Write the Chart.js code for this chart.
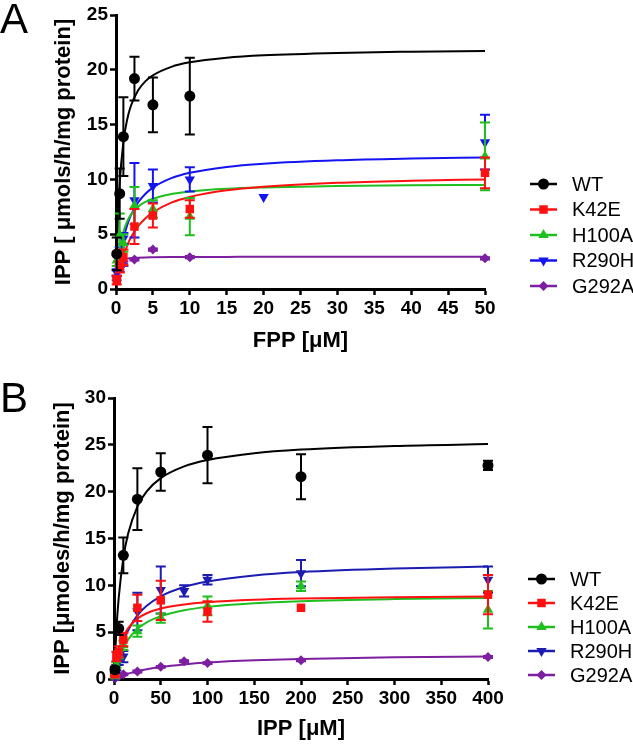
<!DOCTYPE html>
<html>
<head>
<meta charset="utf-8">
<script src="https://cdn.jsdelivr.net/npm/chart.js@4.4.1/dist/chart.umd.min.js"></script>
<style>
  body { margin: 0; background: #fff; }
  .wrap { position: absolute; left: 0; width: 633px; }
  #wrapA { top: 0; height: 370px; }
  #wrapB { top: 370px; height: 374px; }
</style>
</head>
<body>
<div class="wrap" id="wrapA"><canvas id="chartA"></canvas></div>
<div class="wrap" id="wrapB"><canvas id="chartB"></canvas></div>
<script>
const seriesNames = ['WT', 'K42E', 'H100A', 'R290H', 'G292A'];

// Panel A: FPP varied (uM)
const fppConc = [0.1, 0.5, 1, 2.5, 5, 10, 20, 50];
const aWT    = [3.2, 8.7, 13.9, 19.2, 16.8, 17.6, null, null];
const aWTErr = [1.5, 2.3, 3.6, 2.0, 2.5, 3.5, null, null];
const aK42E    = [0.8, 2.0, 2.9, 5.7, 6.7, 7.3, null, 10.6];
const aK42EErr = [0.4, 0.5, 0.7, 1.6, 1.1, 0.8, null, 1.4];
const aH100A    = [2.6, 4.9, 4.2, 7.6, 7.3, 6.6, null, 12.1];
const aH100AErr = [0.5, 2.0, 0.8, 1.7, 0.8, 1.7, null, 3.1];
const aR290H    = [1.5, 3.0, 4.6, 8.1, 9.4, 10.0, 8.4, 13.4];
const aR290HErr = [0.3, 0.8, 0.5, 3.4, 1.5, 1.1, 0, 2.5];
const aG292A    = [1.0, 1.8, 2.3, 2.7, 3.6, 2.9, null, 2.8];
const aG292AErr = [0.2, 0.2, 0.2, 0.1, 0.1, 0.1, null, 0.1];

// fitted curves, panel A
const fppCurveX = [0, 0.25, 0.5, 1, 1.5, 2, 3, 4, 5, 7.5, 10, 15, 20, 30, 40, 50];
const aWTFit    = [0, 6.18, 9.65, 13.41, 15.42, 16.67, 18.13, 18.97, 19.50, 20.27, 20.68, 21.10, 21.32, 21.54, 21.65, 21.72];
const aK42EFit  = [0, 0.95, 1.75, 3.0, 3.94, 4.67, 5.73, 6.46, 7.0, 7.88, 8.4, 9.0, 9.33, 9.69, 9.88, 10.0];
const aH100AFit = [0, 2.18, 3.55, 5.19, 6.14, 6.76, 7.51, 7.95, 8.24, 8.67, 8.89, 9.14, 9.26, 9.39, 9.46, 9.50];
const aR290HFit = [0, 1.58, 2.81, 4.58, 5.80, 6.69, 7.90, 8.69, 9.25, 10.11, 10.60, 11.14, 11.43, 11.74, 11.90, 12.00];
const aG292AFit = [0, 2.11, 2.46, 2.68, 2.77, 2.81, 2.85, 2.88, 2.89, 2.91, 2.92, 2.93, 2.94, 2.94, 2.95, 2.95];

// Panel B: IPP varied (uM)
const ippConc = [1, 2.5, 5, 10, 25, 50, 75, 100, 200, 400];
const bWT    = [1.0, null, 5.4, 13.2, 19.2, 22.1, null, 23.9, 21.6, 22.8];
const bWTErr = [0.3, null, 0.7, 1.9, 3.3, 2.0, null, 3.0, 2.4, 0.5];
const bK42E    = [0.5, 2.4, 2.9, 4.2, 7.6, 8.4, null, 7.2, 7.6, 9.0];
const bK42EErr = [0.2, 0.5, 0.6, 0.7, 1.4, 2.1, null, 1.1, 0, 2.1];
const bH100A    = [0.3, 1.5, 2.6, 3.6, 5.1, 6.5, null, 7.8, 9.9, 7.4];
const bH100AErr = [0.1, 0.3, 0.4, 0.5, 0.6, 0.5, null, 1.0, 0.5, 2.0];
const bR290H    = [0.3, 1.2, 1.9, 2.4, 7.2, 9.5, 9.4, 10.6, 11.3, 10.6];
const bR290HErr = [0.1, 0.3, 0.4, 0.6, 2.0, 2.5, 0.6, 0.5, 1.4, 1.4];
const bG292A    = [0.1, 0.2, 0.3, 0.5, 0.8, 1.3, 1.9, 1.7, 2.0, 2.35];
const bG292AErr = [0.05, 0.05, 0.05, 0.1, 0.1, 0.1, 0.1, 0.1, 0.1, 0.1];

// fitted curves, panel B
const ippCurveX = [0, 2.5, 5, 10, 15, 25, 35, 50, 75, 100, 150, 200, 300, 400];
const bWTFit    = [0, 5.18, 8.62, 12.91, 15.47, 18.41, 20.03, 21.45, 22.70, 23.38, 24.11, 24.49, 24.88, 25.08];
const bK42EFit  = [0, 1.80, 3.01, 4.51, 5.41, 6.44, 7.02, 7.52, 7.96, 8.20, 8.46, 8.59, 8.73, 8.80];
const bH100AFit = [0, 1.14, 2.03, 3.32, 4.20, 5.34, 6.05, 6.71, 7.34, 7.70, 8.09, 8.31, 8.53, 8.65];
const bR290HFit = [0, 1.31, 2.38, 4.00, 5.18, 6.79, 7.82, 8.83, 9.82, 10.40, 11.06, 11.42, 11.80, 12.00];
const bG292AFit = [0, 0.12, 0.22, 0.41, 0.57, 0.84, 1.05, 1.29, 1.56, 1.75, 1.99, 2.14, 2.31, 2.40];

const FONT = "'Liberation Sans', Arial, Helvetica, sans-serif";
const markers = [
  { style: 'circle', radius: 5.5, rotation: 0 },
  { style: 'rect', radius: 6, rotation: 0 },
  { style: 'triangle', radius: 6, rotation: 0 },
  { style: 'triangle', radius: 6, rotation: 180 },
  { style: 'rectRot', radius: 5, rotation: 0 }
];
const colorsA = ['#000000', '#ff1010', '#1fbf1f', '#1414f0', '#7d1fa0'];
const colorsB = ['#000000', '#ff1010', '#1fbf1f', '#1c1cb0', '#7d1fa0'];

function pts(xs, ys) {
  const out = [];
  xs.forEach((x, i) => { if (ys[i] !== null) out.push({ x: x, y: ys[i] }); });
  return out;
}

// vertical error bars with caps, drawn under each point set
const errorBars = {
  id: 'errorBars',
  beforeDatasetDraw(chart, args) {
    const ds = chart.data.datasets[args.index];
    if (!ds.errors) return;
    const { ctx, scales: { x, y } } = chart;
    ctx.save();
    ctx.strokeStyle = ds.borderColor;
    ctx.lineWidth = 2;
    ds.data.forEach((p, i) => {
      const e = ds.errors[i];
      if (!e) return;
      const px = x.getPixelForValue(p.x);
      const yt = y.getPixelForValue(p.y + e);
      const yb = y.getPixelForValue(Math.max(0, p.y - e));
      ctx.beginPath();
      ctx.moveTo(px, yt); ctx.lineTo(px, yb);
      ctx.moveTo(px - 5, yt); ctx.lineTo(px + 5, yt);
      ctx.moveTo(px - 5, yb); ctx.lineTo(px + 5, yb);
      ctx.stroke();
    });
    ctx.restore();
  }
};

// GraphPad-style legend + panel letter
const sideLegend = {
  id: 'sideLegend',
  afterDraw(chart, args, opts) {
    const ctx = chart.ctx;
    ctx.save();
    ctx.fillStyle = '#000';
    ctx.font = '42px ' + FONT;
    ctx.textBaseline = 'alphabetic';
    ctx.fillText(opts.letter, 0, opts.letterY);
    seriesNames.forEach((name, i) => {
      const y = opts.y0 + i * opts.dy;
      const c = opts.colors[i];
      ctx.strokeStyle = c;
      ctx.fillStyle = c;
      ctx.lineWidth = 2.5;
      ctx.beginPath();
      ctx.moveTo(opts.x0, y); ctx.lineTo(opts.x0 + 27, y);
      ctx.stroke();
      const m = markers[i];
      Chart.helpers.drawPoint(ctx, { pointStyle: m.style, radius: m.radius, rotation: m.rotation, borderWidth: 0 }, opts.x0 + 13.5, y);
      ctx.fillStyle = '#000';
      ctx.font = '20px ' + FONT;
      ctx.textBaseline = 'middle';
      ctx.fillText(name, opts.x0 + 42, y + 1);
    });
    ctx.restore();
  }
};

function buildDatasets(xs, ys, errs, cx, fits, colors) {
  const sets = [];
  ys.forEach((vals, i) => {
    sets.push({
      label: seriesNames[i],
      data: pts(xs, vals),
      errors: errs[i].filter((e, k) => vals[k] !== null),
      showLine: false,
      clip: false,
      pointStyle: markers[i].style,
      pointRadius: markers[i].radius,
      pointRotation: markers[i].rotation,
      pointBorderWidth: 0,
      backgroundColor: colors[i],
      borderColor: colors[i]
    });
  });
  fits.forEach((vals, i) => {
    sets.push({
      label: seriesNames[i] + ' fit',
      data: pts(cx, vals),
      showLine: true,
      clip: false,
      pointRadius: 0,
      borderWidth: 2,
      borderColor: colors[i],
      backgroundColor: colors[i],
      cubicInterpolationMode: 'monotone'
    });
  });
  return sets;
}

function axis(min, max, step, title, fitSize, horizontal, titlePad) {
  return {
    type: 'linear', min: min, max: max,
    ticks: { stepSize: step, color: '#000', padding: 2, maxRotation: 0,
      font: { family: FONT, weight: 'bold', size: 19 } },
    grid: { drawOnChartArea: false, tickLength: 6, tickWidth: 2.5, tickColor: '#000' },
    border: { color: '#000', width: 3 },
    title: { display: true, text: title, color: '#000', padding: titlePad,
      font: { family: FONT, weight: 'bold', size: 22 } },
    afterFit(s) { if (horizontal) s.height = fitSize; else s.width = fitSize; }
  };
}

function makeChart(id, cfg) {
  return new Chart(document.getElementById(id), {
    type: 'scatter',
    data: { datasets: buildDatasets(cfg.xs, cfg.ys, cfg.errs, cfg.cx, cfg.fits, cfg.colors) },
    options: {
      responsive: true,
      maintainAspectRatio: false,
      animation: false,
      layout: { padding: cfg.padding },
      plugins: { legend: { display: false }, tooltip: { enabled: false },
        sideLegend: cfg.legend },
      scales: {
        x: axis(0, cfg.xmax, cfg.xstep, cfg.xtitle, cfg.xh, true, { top: 0, bottom: cfg.xtitlePad }),
        y: axis(0, cfg.ymax, 5, cfg.ytitle, cfg.yw, false, { top: cfg.ytitlePad, bottom: 0 })
      }
    },
    plugins: [errorBars, sideLegend]
  });
}

makeChart('chartA', {
  xs: fppConc,
  ys: [aWT, aK42E, aH100A, aR290H, aG292A],
  errs: [aWTErr, aK42EErr, aH100AErr, aR290HErr, aG292AErr],
  cx: fppCurveX,
  fits: [aWTFit, aK42EFit, aH100AFit, aR290HFit, aG292AFit],
  colors: colorsA,
  xmax: 50, xstep: 5, ymax: 25,
  xtitle: 'FPP [μM]', ytitle: 'IPP [ μmols/h/mg protein]',
  padding: { left: 0, right: 148, top: 15, bottom: 0 },
  xh: 81, yw: 116, xtitlePad: 16, ytitlePad: 51,
  legend: { letter: 'A', letterY: 33, x0: 530, y0: 184, dy: 25.5, colors: colorsA }
});

makeChart('chartB', {
  xs: ippConc,
  ys: [bWT, bK42E, bH100A, bR290H, bG292A],
  errs: [bWTErr, bK42EErr, bH100AErr, bR290HErr, bG292AErr],
  cx: ippCurveX,
  fits: [bWTFit, bK42EFit, bH100AFit, bR290HFit, bG292AFit],
  colors: colorsB,
  xmax: 400, xstep: 50, ymax: 30,
  xtitle: 'IPP [μM]', ytitle: 'IPP [μmoles/h/mg protein]',
  padding: { left: 0, right: 145, top: 28, bottom: 0 },
  xh: 65, yw: 114, xtitlePad: 2, ytitlePad: 50,
  legend: { letter: 'B', letterY: 42, x0: 528, y0: 209, dy: 24, colors: colorsB }
});
</script>
</body>
</html>
